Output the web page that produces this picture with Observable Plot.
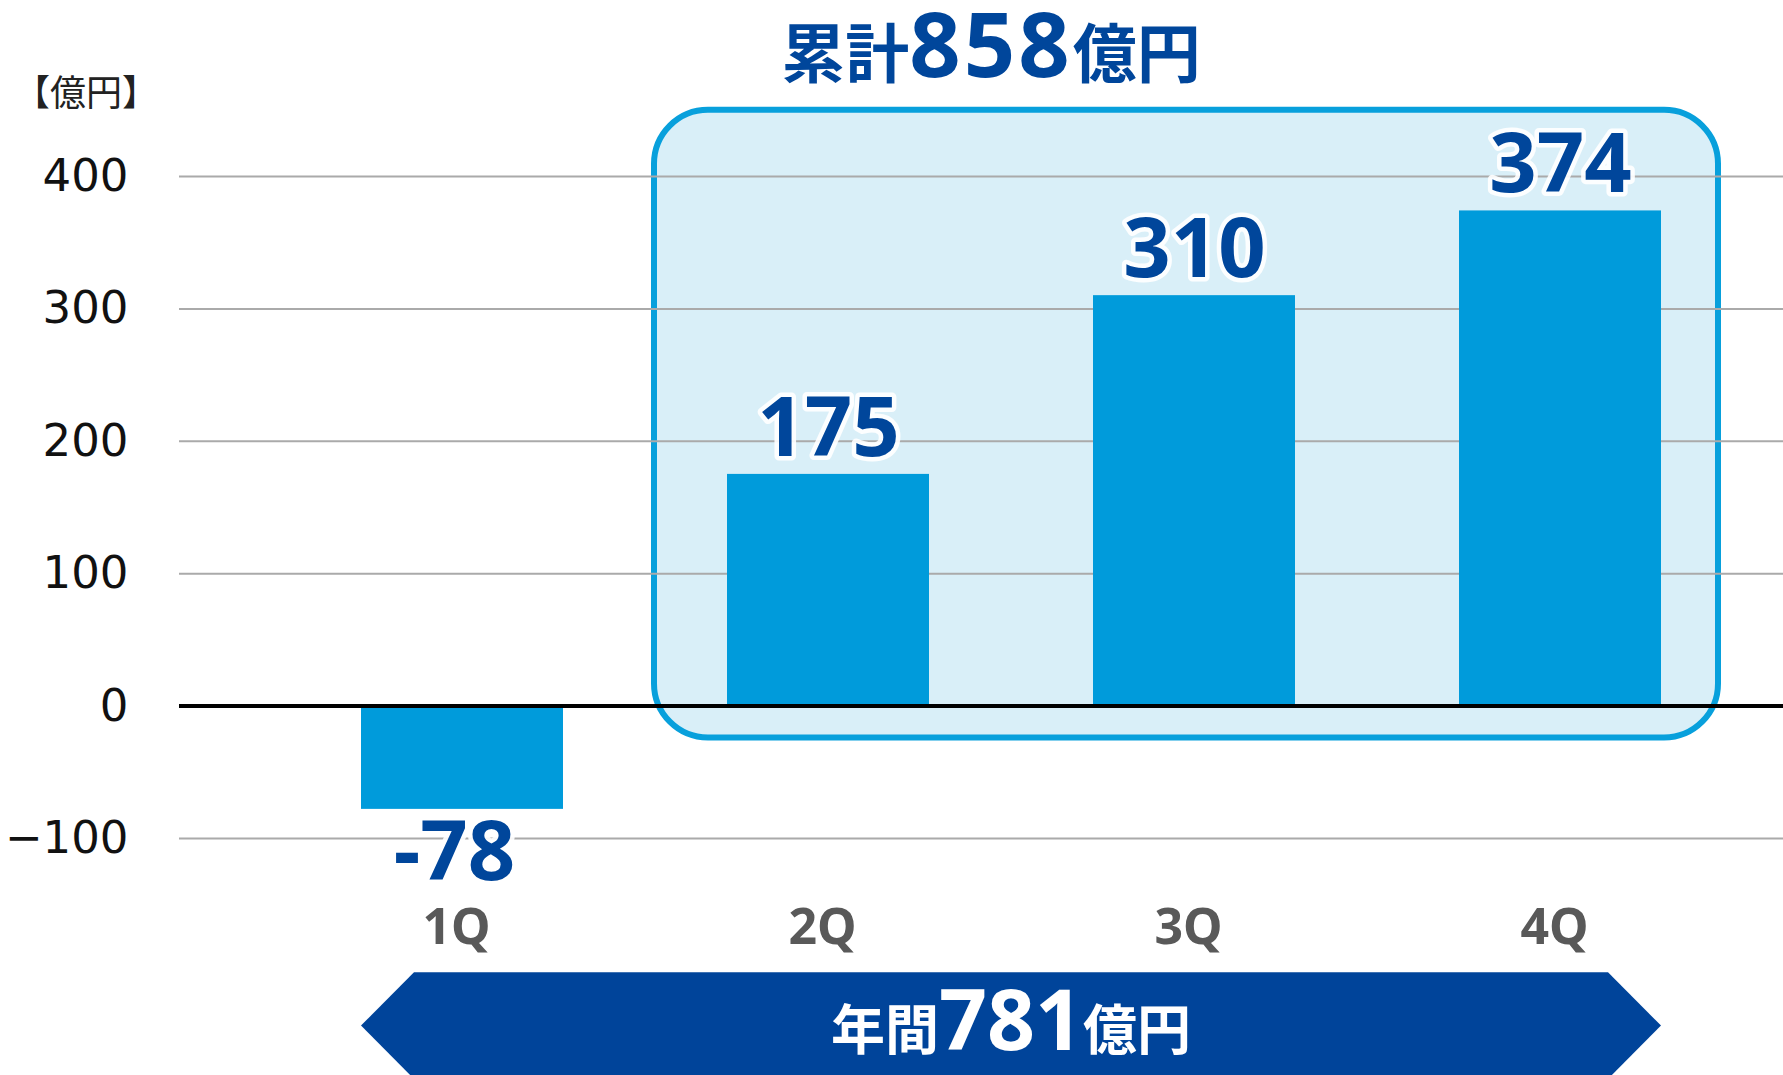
<!DOCTYPE html>
<html>
<head>
<meta charset="utf-8">
<script src="https://cdn.jsdelivr.net/npm/d3@7"></script>
<script src="https://cdn.jsdelivr.net/npm/@observablehq/plot@0.6"></script>
<style>
  html, body { margin: 0; padding: 0; background: #fff; overflow: hidden; }
</style>
</head>
<body>
<div id="chart"></div>
<script>
// ---- data ----
const quarters = ["1Q", "2Q", "3Q", "4Q"];
const profits = [-78, 175, 310, 374];
const yTicks = [-100, 0, 100, 200, 300, 400];
const unitLabel = "【億円】";
const titleParts = ["累計", "858", "億円"];
const annualParts = ["年間", "781", "億円"];
const highlightQuarters = ["2Q", "4Q"];
const highlightSpan = [450, -24];

const data = quarters.map((q, i) => ({q, v: profits[i]}));

const navy = "#00469b";
const barBlue = "#009bdb";
const boxStroke = "#08a0dc";
const boxFill = "#d9eff8";

const boxMark = (index, scales, values, dim) => {
  const {x, y} = scales;
  const bw = x.bandwidth();
  const x0 = x(highlightQuarters[0]) - 73;
  const x1 = x(highlightQuarters[1]) + bw + 57;
  const y0 = y(highlightSpan[0]);
  const y1 = y(highlightSpan[1]);
  const g = d3.create("svg:g");
  g.append("rect")
    .attr("x", x0).attr("y", y0)
    .attr("width", x1 - x0).attr("height", y1 - y0)
    .attr("rx", 54).attr("ry", 54)
    .attr("fill", boxFill)
    .attr("stroke", boxStroke)
    .attr("stroke-width", 6);
  return g.node();
};

const annotations = (index, scales, values, dim) => {
  const {x} = scales;
  const bw = x.bandwidth();
  const g = d3.create("svg:g");
  // unit label
  g.append("text")
    .attr("x", dim.marginLeft - 93)
    .attr("y", dim.marginTop - 83)
    .attr("dy", "0.35em")
    .attr("text-anchor", "middle")
    .attr("font-family", "'Noto Sans CJK JP', sans-serif")
    .attr("font-size", 36)
    .attr("fill", "#222")
    .text(unitLabel);
  // title
  const t = g.append("text")
    .attr("x", (dim.marginLeft + dim.width) / 2 + 10)
    .attr("y", dim.marginTop - 99)
    .attr("text-anchor", "middle")
    .attr("fill", navy)
    .attr("font-weight", "bold")
    .attr("font-family", "'Noto Sans', 'Noto Sans CJK JP', sans-serif");
  t.append("tspan").attr("font-size", 64).text(titleParts[0]);
  t.append("tspan").attr("font-size", 90).attr("letter-spacing", 3).text(titleParts[1]);
  t.append("tspan").attr("font-size", 64).text(titleParts[2]);
  // banner
  const x0 = x(quarters[0]);
  const x1 = x(quarters[quarters.length - 1]) + bw;
  const yTop = dim.height - dim.marginBottom + 134.3;
  const half = 53.3;
  const depth = 53;
  const pts = [
    [x0, yTop + half], [x0 + depth, yTop], [x1 - depth, yTop],
    [x1, yTop + half], [x1 - depth, yTop + 2 * half], [x0 + depth, yTop + 2 * half]
  ];
  g.append("polygon")
    .attr("points", pts.map(p => p.join(",")).join(" "))
    .attr("fill", "#00449a");
  const b = g.append("text")
    .attr("x", (x0 + x1) / 2)
    .attr("y", yTop + 78)
    .attr("text-anchor", "middle")
    .attr("fill", "#fff")
    .attr("font-weight", "bold")
    .attr("font-family", "'Noto Sans', 'Noto Sans CJK JP', sans-serif");
  b.append("tspan").attr("font-size", 54).text(annualParts[0]);
  b.append("tspan").attr("font-size", 84).text(annualParts[1]);
  b.append("tspan").attr("font-size", 54).text(annualParts[2]);
  return g.node();
};

const labelStyle = {
  fill: navy,
  stroke: "white",
  strokeWidth: 9,
  strokeOpacity: 0.9,
  strokeLinejoin: "round",
  paintOrder: "stroke",
  fontSize: 83,
  fontWeight: "bold",
  fontFamily: "'Noto Sans', sans-serif"
};

const chart = Plot.plot({
  width: 1783,
  height: 1075,
  marginLeft: 179,
  marginRight: 0,
  marginTop: 176,
  marginBottom: 237,
  x: {type: "band", domain: quarters, paddingInner: 0.447, paddingOuter: 0.41, align: 0.6},
  y: {domain: [yTicks[0], yTicks[yTicks.length - 1]]},
  style: {
    fontFamily: "'Noto Sans', 'Noto Sans CJK JP', sans-serif",
    background: "white",
    overflow: "visible"
  },
  marks: [
    boxMark,
    Plot.gridY(yTicks.filter(d => d !== 0), {stroke: "#aaaaaa", strokeOpacity: 1, strokeWidth: 2}),
    Plot.barY(data, {x: "q", y: "v", fill: barBlue}),
    Plot.ruleY([0], {stroke: "#000", strokeWidth: 4}),
    Plot.axisY({
      ticks: yTicks, tickSize: 0, tickPadding: 51, label: null,
      fontSize: 45, fontFamily: "'DejaVu Sans', sans-serif", fill: "#111"
    }),
    Plot.axisX({
      tickSize: 0, tickPadding: 70, label: null, dx: -6,
      fontSize: 50, fontWeight: "bold", fill: "#595959", fontFamily: "'Noto Sans', sans-serif"
    }),
    Plot.text(data.filter(d => d.v >= 0), {x: "q", y: "v", text: d => String(d.v), dy: -45, ...labelStyle}),
    Plot.text(data.filter(d => d.v < 0), {x: "q", y: "v", text: d => String(d.v), dx: -8, dy: 44, ...labelStyle}),
    annotations
  ]
});

document.getElementById("chart").appendChild(chart);
</script>
</body>
</html>
